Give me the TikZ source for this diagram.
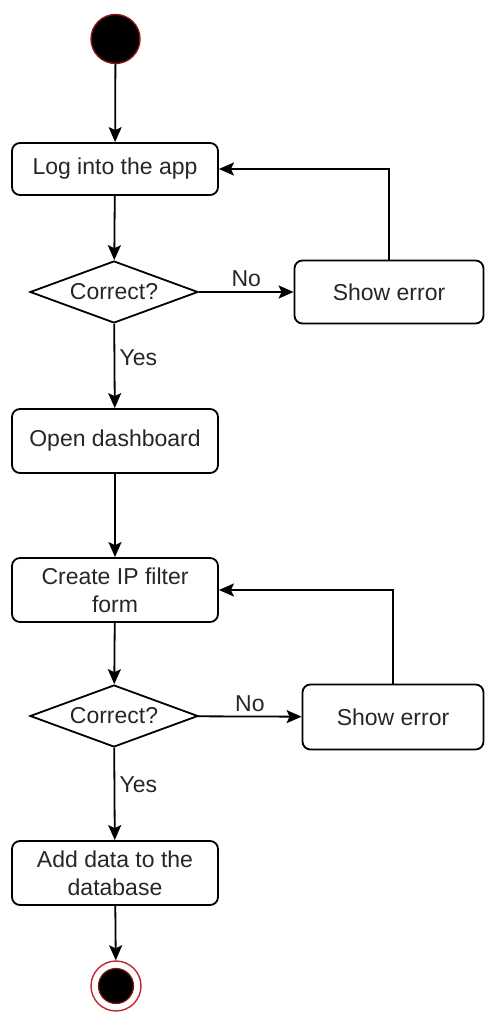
\documentclass[tikz,border=0pt]{standalone}
\usepackage{fontspec}
\setmainfont{Liberation Sans}
\usetikzlibrary{shapes.geometric,arrows.meta}
\definecolor{edgered}{HTML}{8A1515}
\definecolor{ringred}{HTML}{C0282D}
\definecolor{txt}{HTML}{262626}
\tikzset{
  act/.style={draw, rounded corners=8pt, line width=1.8pt, minimum width=206pt, minimum height=64pt, align=center, text=txt, font=\fontsize{23}{28}\selectfont},
  chk/.style={draw, diamond, line width=1.8pt, inner sep=0pt, shape aspect=2.7, minimum width=168pt, minimum height=62pt, text=txt, font=\fontsize{23}{28}\selectfont},
  lbl/.style={text=txt, font=\fontsize{23}{28}\selectfont},
  arr/.style={line width=1.8pt, -{Stealth[length=15pt,width=13pt,inset=3pt]}}
}
\begin{document}
\begin{tikzpicture}[x=1pt, y=-1pt]
\useasboundingbox (0,0) rectangle (485,1014);
\node[circle, minimum size=49pt, inner sep=0pt, fill=black, draw=edgered, line width=1.4pt] (start) at (115.5,39){};
\node[act, minimum height=52pt] (login) at (115,169){Log into the app};
\draw[arr](start) -- (login);
\node[chk] (chk1) at (114,292){Correct?};
\draw[arr](login) -- (chk1);
\node[act, minimum width=189pt, minimum height=63pt] (err1) at (389,292){Show error};
\draw[arr](chk1) -- node[lbl, above=1pt]{No} (err1);
\draw[arr](err1.north) |- (login.east);
\node[act] (dash) at (115,441){Open dashboard};
\draw[arr](chk1) -- node[lbl, pos=0.4, right=1pt]{Yes} (dash);
\node[act] (form) at (115,590){Create IP filter\\form};
\draw[arr](dash) -- (form);
\node[chk] (chk2) at (114,716){Correct?};
\draw[arr](form) -- (chk2);
\node[act, minimum width=181pt, minimum height=65pt] (err2) at (393,717){Show error};
\draw[arr](chk2) -- node[lbl, above=1pt]{No} (err2);
\draw[arr](err2.north) |- (form.east);
\node[act] (store) at (115,873){Add data to the\\database};
\draw[arr](chk2) -- node[lbl, pos=0.4, right=1pt]{Yes} (store);
\node[circle, minimum size=50pt, inner sep=0pt, draw=ringred, line width=1.4pt] (stop) at (116,986){};
\node[circle, minimum size=35pt, inner sep=0pt, fill=black, draw=edgered, line width=1.2pt] (stopin) at (stop){};
\draw[arr](store) -- (stop);
\end{tikzpicture}
\end{document}
